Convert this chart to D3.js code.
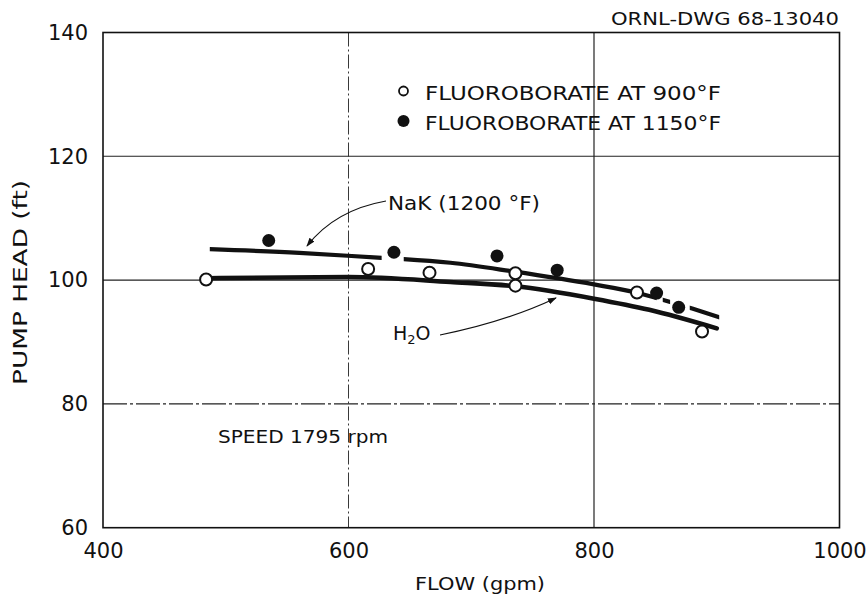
<!DOCTYPE html>
<html><head><meta charset="utf-8">
<script src="https://cdn.jsdelivr.net/npm/d3@7"></script>
<style>
body{margin:0;background:#fff;}
text{font-family:"DejaVu Sans",sans-serif;fill:#111;}
</style></head>
<body><svg id="c" width="868" height="596"></svg>
<script>
// ---- data ----
const xTicks = [400, 600, 800, 1000];
const yTicks = [60, 80, 100, 120, 140];
const gridX = [600, 800];
const gridY = [80, 100, 120];
// Fluoroborate at 900 F (open circles)
const fb900Flow = [484, 616, 666, 736, 736, 835, 888];
const fb900Head = [100.1, 101.8, 101.2, 101.1, 99.1, 98.0, 91.7];
// Fluoroborate at 1150 F (filled circles)
const fb1150Flow = [535, 637, 721, 770, 851, 869];
const fb1150Head = [106.4, 104.5, 103.9, 101.6, 97.9, 95.6];
// NaK (1200 F) faired curve
const nakFlow = [487, 560, 627, 645, 683, 734, 800, 834, 860, 880, 902];
const nakHead = [105.0, 104.4, 103.6, 103.4, 102.8, 101.4, 99.3, 98.0, 96.6, 95.4, 94.0];
const nakVisible = [[487, 627], [645, 851], [856, 862], [878, 902]];
// H2O faired curve
const h2oFlow = [484, 600, 683, 736, 800, 845, 900];
const h2oHead = [100.3, 100.5, 99.7, 99.0, 97.0, 95.2, 92.2];

// ---- layout ----
const svg = d3.select("#c");
const x = d3.scaleLinear().domain([400, 1000]).range([103, 839.5]);
const y = d3.scaleLinear().domain([60, 140]).range([527.7, 32.5]);

// grid
svg.append("g").selectAll("line").data(gridX).join("line")
  .attr("x1", d => x(d)).attr("x2", d => x(d)).attr("y1", y(140)).attr("y2", y(60))
  .attr("stroke", "#222").attr("stroke-width", d => d === 600 ? 0.9 : 1.2)
  .attr("stroke-dasharray", d => d === 600 ? "14,3,2,3" : null);
svg.append("g").selectAll("line").data(gridY).join("line")
  .attr("x1", x(400)).attr("x2", x(1000)).attr("y1", d => y(d)).attr("y2", d => y(d))
  .attr("stroke", "#222").attr("stroke-width", d => d === 100 ? 1.3 : 1.1)
  .attr("stroke-dasharray", d => d === 80 ? "24,3,3,3" : null);
// frame
svg.append("rect").attr("x", x(400)).attr("y", y(140))
  .attr("width", x(1000) - x(400)).attr("height", y(60) - y(140))
  .attr("fill", "none").attr("stroke", "#111").attr("stroke-width", 1.6);

// axes
const ax = svg.append("g").attr("transform", `translate(0,${y(60)})`)
  .call(d3.axisBottom(x).tickValues(xTicks).tickSize(0).tickPadding(15).tickFormat(d3.format("d")));
const ay = svg.append("g").attr("transform", `translate(${x(400)},0)`)
  .call(d3.axisLeft(y).tickValues(yTicks).tickSize(0).tickPadding(15).tickFormat(d3.format("d")));
[ax, ay].forEach(g => { g.select(".domain").remove(); g.selectAll("text").attr("font-size", 21).attr("font-family", "DejaVu Sans").attr("fill", "#111"); });

// axis titles
svg.append("text").attr("x", 415).attr("y", 590).attr("font-size", 18)
  .attr("textLength", 130).attr("lengthAdjust", "spacingAndGlyphs").text("FLOW (gpm)");
svg.append("text").attr("transform", "translate(27,385) rotate(-90)").attr("font-size", 19)
  .attr("textLength", 205).attr("lengthAdjust", "spacingAndGlyphs").text("PUMP HEAD (ft)");
svg.append("text").attr("x", 839).attr("y", 25).attr("text-anchor", "end").attr("font-size", 17)
  .attr("textLength", 228).attr("lengthAdjust", "spacingAndGlyphs").text("ORNL-DWG 68-13040");

// curves
const line = d3.line().x(d => x(d[0])).y(d => y(d[1])).curve(d3.curveMonotoneX);
const defs = svg.append("defs");
const clip = defs.append("clipPath").attr("id", "nakclip");
clip.selectAll("rect").data(nakVisible).join("rect")
  .attr("x", d => x(d[0])).attr("width", d => x(d[1]) - x(d[0]))
  .attr("y", 0).attr("height", 596);
svg.append("path").datum(d3.zip(nakFlow, nakHead)).attr("d", line)
  .attr("fill", "none").attr("stroke", "#111").attr("stroke-width", 4.2)
  .attr("stroke-linecap", "round").attr("clip-path", "url(#nakclip)");
svg.append("path").datum(d3.zip(h2oFlow, h2oHead)).attr("d", line)
  .attr("fill", "none").attr("stroke", "#111").attr("stroke-width", 4.6).attr("stroke-linecap", "round");

// points
svg.append("g").selectAll("circle").data(d3.zip(fb900Flow, fb900Head)).join("circle")
  .attr("cx", d => x(d[0])).attr("cy", d => y(d[1])).attr("r", 6)
  .attr("fill", "#fff").attr("stroke", "#111").attr("stroke-width", 2);
svg.append("g").selectAll("circle").data(d3.zip(fb1150Flow, fb1150Head)).join("circle")
  .attr("cx", d => x(d[0])).attr("cy", d => y(d[1])).attr("r", 6.5).attr("fill", "#111");

// legend
svg.append("circle").attr("cx", 403.5).attr("cy", 91).attr("r", 4.5).attr("fill", "#fff").attr("stroke", "#111").attr("stroke-width", 1.8);
svg.append("circle").attr("cx", 403.5).attr("cy", 121).attr("r", 6).attr("fill", "#111");
svg.append("text").attr("x", 425).attr("y", 99.5).attr("font-size", 19)
  .attr("textLength", 296).attr("lengthAdjust", "spacingAndGlyphs").text("FLUOROBORATE AT 900°F");
svg.append("text").attr("x", 425).attr("y", 130).attr("font-size", 19)
  .attr("textLength", 296).attr("lengthAdjust", "spacingAndGlyphs").text("FLUOROBORATE AT 1150°F");

// annotations
svg.append("text").attr("x", 218).attr("y", 443).attr("font-size", 18)
  .attr("textLength", 170).attr("lengthAdjust", "spacingAndGlyphs").text("SPEED 1795 rpm");
svg.append("text").attr("x", 388).attr("y", 210).attr("font-size", 19)
  .attr("textLength", 152).attr("lengthAdjust", "spacingAndGlyphs").text("NaK (1200 °F)");
const h2o = svg.append("text").attr("x", 393).attr("y", 340).attr("font-size", 19);
h2o.append("tspan").text("H");
h2o.append("tspan").attr("font-size", 13).attr("dy", 4).text("2");
h2o.append("tspan").attr("dy", -4).text("O");

// arrows
defs.append("marker").attr("id", "ah").attr("viewBox", "0 0 10 10").attr("refX", 9).attr("refY", 5)
  .attr("markerWidth", 9).attr("markerHeight", 9).attr("orient", "auto-start-reverse").attr("markerUnits", "userSpaceOnUse")
  .append("path").attr("d", "M0,1.5 L10,5 L0,8.5 Z").attr("fill", "#111");
svg.append("path").attr("d", "M386,201 Q335,210 307,246")
  .attr("fill", "none").attr("stroke", "#111").attr("stroke-width", 1.2).attr("marker-end", "url(#ah)");
svg.append("path").attr("d", "M440,335 Q505,322 556,298")
  .attr("fill", "none").attr("stroke", "#111").attr("stroke-width", 1.2).attr("marker-end", "url(#ah)");
</script></body></html>
